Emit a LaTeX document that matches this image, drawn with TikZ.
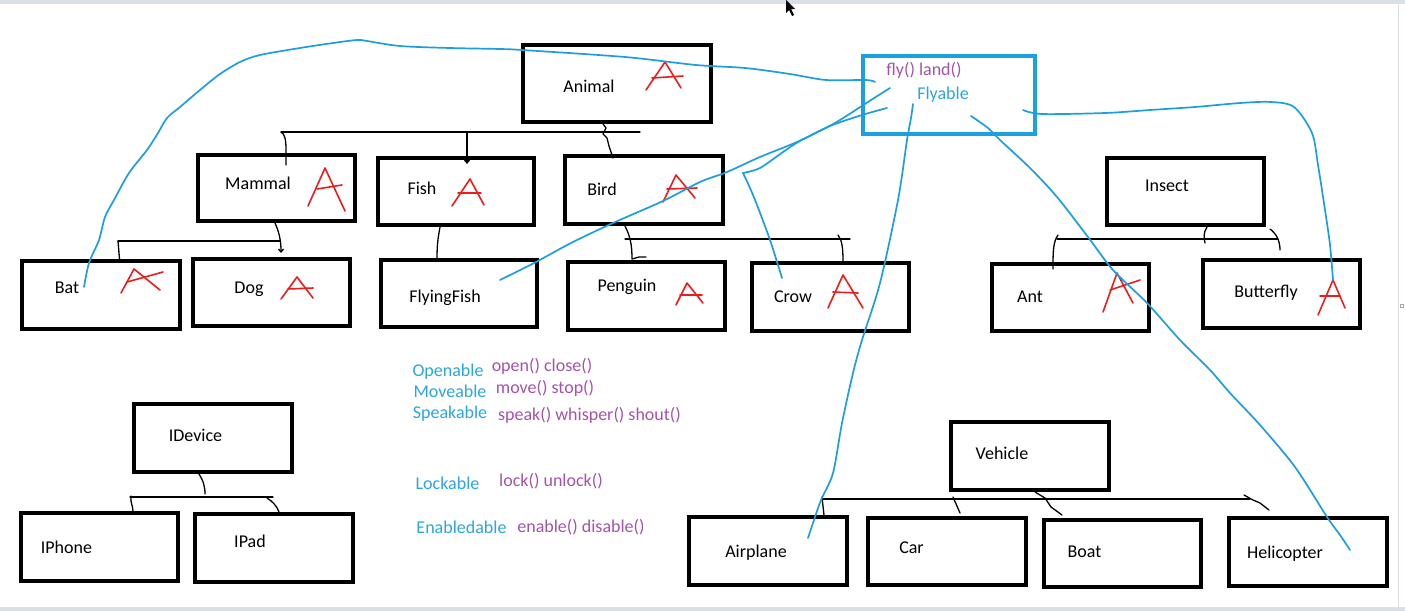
\documentclass[tikz,border=0pt]{standalone}
\usepackage{fontspec}
\setmainfont{Carlito}
\usetikzlibrary{calc,arrows.meta}
\definecolor{flyblue}{RGB}{30,158,222}
\definecolor{boxblue}{RGB}{27,161,226}
\definecolor{txtblue}{RGB}{45,165,225}
\definecolor{txtpurple}{RGB}{163,84,170}
\definecolor{penred}{RGB}{232,30,30}
\definecolor{edgegray}{RGB}{218,224,232}
\tikzset{
  box/.style={draw=black, rectangle, inner sep=0pt},
  fbox/.style={draw=boxblue, rectangle, inner sep=0pt},
  lbl/.style={font=\fontsize{18}{21}\selectfont, inner sep=0pt, anchor=base},
  bluetxt/.style={lbl, text=txtblue},
  purtxt/.style={lbl, text=txtpurple},
  conn/.style={draw=black, line width=1.3pt, line cap=round, line join=round},
  bline/.style={draw=flyblue, line width=1.7pt, line cap=round, line join=round},
  pen/.style={draw=penred, line width=1.6pt, line cap=round, line join=round},
  tip/.style={-{Straight Barb[length=3pt,width=5pt]}}
}
\newcommand\ubox[7]{\node[#6, line width=#7pt, minimum width={(#4)-(#2)-#7}, minimum height={(#5)-(#3)-#7}] (#1) at ({((#2)+(#4))/2},{((#3)+(#5))/2}) {};}
\newcommand\penA[5]{\draw[pen] #1 -- #2 -- #3; \draw[pen] #4 -- #5;}
\begin{document}
\begin{tikzpicture}[x=1pt,y=-1pt]
\useasboundingbox (0,0) rectangle (1405,611);
\fill[white] (0,0) rectangle (1405,611);
\fill[edgegray] (0,0) rectangle (1405,4);
\fill[edgegray] (0,607) rectangle (1405,611);
\draw[edgegray, line width=1pt] (1398,4) -- (1398,607);
\draw[gray!70, line width=0.6pt] (1400,304) rectangle (1403,307);
% cursor
\fill[black] (786,0) -- (786,13) -- (789,10) -- (792,16) -- (794,15) -- (791,9) -- (795,9) -- cycle;

% boxes
\ubox{animal}{521}{43}{713}{124}{box}{3.8}
\ubox{flyable}{861}{54}{1037}{136}{fbox}{4.2}
\ubox{mammal}{196}{153}{357}{223}{box}{3.8}
\ubox{fish}{376}{156}{536}{227}{box}{3.8}
\ubox{bird}{563}{154}{725}{226}{box}{3.8}
\ubox{insect}{1105}{156}{1266}{227}{box}{3.8}
\ubox{bat}{20}{259}{182}{331}{box}{3.8}
\ubox{dog}{191}{257}{352}{328}{box}{3.8}
\ubox{flyingfish}{379}{258}{539}{329}{box}{3.8}
\ubox{penguin}{566}{260}{727}{332}{box}{3.8}
\ubox{crow}{750}{261}{911}{333}{box}{3.8}
\ubox{ant}{990}{262}{1151}{333}{box}{3.8}
\ubox{butterfly}{1201}{258}{1362}{330}{box}{3.8}
\ubox{idevice}{132}{402}{294}{474}{box}{3.8}
\ubox{iphone}{19}{511}{180}{583}{box}{3.8}
\ubox{ipad}{193}{512}{355}{584}{box}{3.8}
\ubox{vehicle}{949}{420}{1111}{492}{box}{3.8}
\ubox{airplane}{687}{515}{849}{587}{box}{3.8}
\ubox{car}{866}{516}{1028}{587}{box}{3.8}
\ubox{boat}{1042}{518}{1203}{589}{box}{3.8}
\ubox{helicopter}{1227}{516}{1389}{588}{box}{3.8}

% box labels
\node[lbl] (animal-t) at (589,92) {Animal};
\node[lbl] (mammal-t) at (258,189) {Mammal};
\node[lbl] (fish-t) at (422,194) {Fish};
\node[lbl] (bird-t) at (602,195) {Bird};
\node[lbl] (insect-t) at (1167,191) {Insect};
\node[lbl] (bat-t) at (67,293) {Bat};
\node[lbl] (dog-t) at (249,293) {Dog};
\node[lbl] (flyingfish-t) at (445,302) {FlyingFish};
\node[lbl] (penguin-t) at (627,291) {Penguin};
\node[lbl] (crow-t) at (793,302) {Crow};
\node[lbl] (ant-t) at (1030,302) {Ant};
\node[lbl] (butterfly-t) at (1266,297) {Butterfly};
\node[lbl] (idevice-t) at (195.5,441) {IDevice};
\node[lbl] (iphone-t) at (66.5,553) {IPhone};
\node[lbl] (ipad-t) at (250,547) {IPad};
\node[lbl] (vehicle-t) at (1002,459) {Vehicle};
\node[lbl] (airplane-t) at (756,557) {Airplane};
\node[lbl] (car-t) at (911.5,553) {Car};
\node[lbl] (boat-t) at (1084.5,557) {Boat};
\node[lbl] (helicopter-t) at (1285,558) {Helicopter};
\node[purtxt] (flyable-m) at (924,75) {fly() land()};
\node[bluetxt] (flyable-t) at (943,99) {Flyable};

% interface list
\node[bluetxt] (openable) at (448,376) {Openable};
\node[purtxt] (openable-m) at (542,371) {open() close()};
\node[bluetxt] (moveable) at (450,397) {Moveable};
\node[purtxt] (moveable-m) at (545,393) {move() stop()};
\node[bluetxt] (speakable) at (450,418) {Speakable};
\node[purtxt] (speakable-m) at (589.5,420) {speak() whisper() shout()};
\node[bluetxt] (lockable) at (447.5,489) {Lockable};
\node[purtxt] (lockable-m) at (551,486) {lock() unlock()};
\node[bluetxt] (enabledable) at (461.5,533) {Enabledable};
\node[purtxt] (enabledable-m) at (581,532) {enable() disable()};

% ---- black hierarchy connectors ----
% Animal
\coordinate (abL) at (281,132); \coordinate (abR) at (640,132); \coordinate (abF) at (467,132);
\draw[conn] (abL) -- (abR);
\draw[conn] (abL) .. controls (285,134) and (286,140) .. (286,150) -- ($(mammal.north west)+(90,12)$);
\draw[conn,tip] (abF) -- ($(fish.north west)+(91,8)$);
\draw[conn] ($(animal.south west)+(82,0)$) -- (606,128) -- (603,134) -- (607,138) -- (609,146) -- ($(bird.north west)+(50,4)$);
% Mammal
\coordinate (mbL) at (118,241); \coordinate (mbR) at (280,241);
\draw[conn] (mbL) -- (mbR);
\draw[conn] (mbL) -- ($(bat.north west)+(99.5,0)$);
\draw[conn,tip] ($(mammal.south west)+(79,0)$) .. controls (279,232) and (281,240) .. ($(dog.north west)+(90,-4)$);
% Fish
\draw[conn] ($(fish.south west)+(64,0)$) .. controls (438,238) and (437,245) .. ($(flyingfish.north west)+(58,0)$);
% Bird
\coordinate (bbL) at (625,239); \coordinate (bbR) at (850,239); \coordinate (bbT) at (838,235);
\draw[conn] (bbL) -- (bbR);
\draw[conn] ($(bird.south west)+(62,0)$) .. controls (630,236) and (632,244) .. ($(penguin.north west)+(66,-1)$) -- ++(7,-2) -- ++(7,0);
\draw[conn] (bbT) .. controls (842,240) and (843,248) .. ($(crow.north west)+(93,0)$);
% Insect
\coordinate (ibL) at (1057,239); \coordinate (ibR) at (1278,239);
\coordinate (ibLt) at (1058,235); \coordinate (ibRt) at (1270,229); \coordinate (ibRe) at (1280,250);
\draw[conn] (ibL) -- (ibR);
\draw[conn] ($(insect.south west)+(102,0)$) .. controls (1203,233) and (1204,238) .. (1205,243);
\draw[conn] (ibLt) .. controls (1053,242) and (1053,252) .. ($(ant.north west)+(63,7)$);
\draw[conn] (ibRt) .. controls (1277,234) and (1280,242) .. (ibRe);
% IDevice
\coordinate (dbL) at (130,497); \coordinate (dbR) at (273,497);
\draw[conn] (dbL) -- (dbR);
\draw[conn] ($(idevice.south west)+(67,0)$) .. controls (203,480) and (205,486) .. (205,494);
\draw[conn] (131,496) .. controls (130,502) and (133,506) .. ($(iphone.north west)+(114,0)$);
\draw[conn] (267,498) .. controls (272,501) and (277,506) .. ($(ipad.north west)+(86,0)$);
% Vehicle
\coordinate (vbL) at (823,499); \coordinate (vbR) at (1250,499);
\coordinate (carE) at (960,513); \coordinate (boatE) at (1062,515); \coordinate (heliE) at (1269,510);
\draw[conn] (vbL) -- (vbR);
\draw[conn] (822,497) -- ($(airplane.north west)+(137,0)$);
\draw[conn] (953,497) -- (carE);
\draw[conn] ($(vehicle.south west)+(86,0)$) -- (1045,498) -- (1051,507) -- (boatE);
\draw[conn] (1244,495) -- (1253,500) -- (1260,503) -- (heliE);

% ---- red A marks ----
\penA{(646,90)}{(665,62)}{(681,88)}{(652,78)}{(683,76)}
\penA{(308,206)}{(325,168)}{(345,211)}{(317,189)}{(342,185)}
\penA{(452,206)}{(470,179)}{(484,205)}{(458,193)}{(481,193)}
\penA{(663,202)}{(676,175)}{(695,198)}{(667,189)}{(697,188)}
\penA{(121,293)}{(134,269)}{(160,290)}{(127,282)}{(163,272)}
\penA{(281,299)}{(297,277)}{(313,298)}{(288,289)}{(313,288)}
\penA{(676,305)}{(687,283)}{(703,303)}{(680,295)}{(702,295)}
\penA{(828,308)}{(843,275)}{(863,308)}{(833,292)}{(858,293)}
\penA{(1103,312)}{(1117,273)}{(1133,303)}{(1110,290)}{(1140,280)}
\penA{(1318,315)}{(1333,280)}{(1345,308)}{(1320,296)}{(1340,296)}

% ---- Flyable connectors (blue) ----
\coordinate (f1) at ($(flyable.north west)+(14,28)$);
\coordinate (f2) at ($(flyable.north west)+(26,54)$);
\coordinate (f3) at ($(flyable.north west)+(29,34)$);
\coordinate (f4) at ($(flyable.north west)+(52,50)$);
\coordinate (f5) at ($(flyable.north west)+(110,62)$);
\coordinate (f6) at ($(flyable.north west)+(162,56)$);
\coordinate (batE) at ($(bat.north west)+(64,28)$);
\coordinate (ffE) at ($(flyingfish.north west)+(121,22)$);
\coordinate (crowE) at ($(crow.north west)+(32,17)$);
\coordinate (crowK) at (743,173);
\coordinate (airE) at ($(airplane.north west)+(121,23)$);
\coordinate (helE) at ($(helicopter.north west)+(123,34)$);
\coordinate (butE) at ($(butterfly.north west)+(132,22)$);

\draw[bline] plot[smooth] coordinates {(batE) (89,263) (99,240) (105,217) (114,200) (129,173) (147,150) (158,133) (167,118) (180,107) (200,90) (220,74) (240,62) (260,55) (300,48) (333,43) (357,40) (367,41) (400,46) (450,48) (500,49) (522,50) (625,57) (696,65) (745,68) (790,74) (826,80) (866,80) (f1)};
\draw[bline] plot[smooth] coordinates {(f2) (862,115) (830,126) (797,142) (760,157) (727,172) (700,182) (663,201) (613,223) (571,243) (536,262) (ffE)};
\draw[bline] plot[smooth] coordinates {(f3) (871,100) (835,123) (800,141) (783,152) (760,168) (crowK)};
\draw[bline] plot[smooth] coordinates {(crowK) (750,188) (757,205) (770,240) (crowE)};
\draw[bline] plot[smooth] coordinates {(f4) (911,118) (907,140) (898,200) (880,283) (862,340) (853,373) (842,423) (833,473) (821,500) (814,520) (airE)};
\draw[bline] plot[smooth] coordinates {(f5) (988,128) (1000,140) (1030,168) (1057,197) (1088,237) (1113,270) (1147,303) (1180,340) (1210,370) (1230,393) (1260,425) (1295,467) (1327,517) (1340,535) (helE)};
\draw[bline] plot[smooth] coordinates {(f6) (1042,114) (1105,113) (1150,110) (1195,107) (1240,103) (1271,102) (1294,107) (1312,133) (1318,165) (1325,210) (1330,245) (butE)};
\end{tikzpicture}
\end{document}
